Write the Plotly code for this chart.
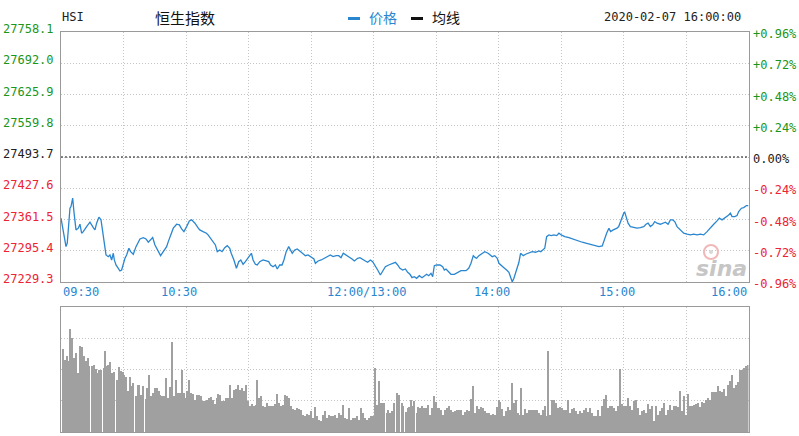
import plotly.graph_objects as go

# ---------------- data ----------------
prev_close = 27493.7
price_levels = [27758.1, 27692.0, 27625.9, 27559.8, 27493.7, 27427.6, 27361.5, 27295.4, 27229.3]
pct_labels = ['+0.96%', '+0.72%', '+0.48%', '+0.24%', '0.00%', '-0.24%', '-0.48%', '-0.72%', '-0.96%']
xtick_min = [0, 60, 150, 210, 270, 330]          # trading minutes since 09:30
xtick_text = ['09:30', '10:30', '12:00/13:00', '14:00', '15:00', '16:00']

# price line (trading minute, index value)
price_min = [0, 2.4, 3.0, 4.3, 4.8, 5.6, 6.2, 7.2, 8.3, 9.1, 9.9, 10.7, 12.3, 13.9, 15.5, 16.3, 17.1, 18.2, 19.2, 20.0,
             20.8, 21.6, 22.7, 23.5, 24.3, 25.1, 25.6, 26.4, 27.5, 28.3, 29.1, 29.9, 30.7, 31.5, 32.6, 33.4, 34.7, 36.0,
             37.9, 39.5, 40.8, 41.9, 43.0, 44.0, 45.1, 46.7, 47.8, 49.1, 50.7, 51.5, 52.8, 53.9, 55.5, 56.8, 57.9, 59.0,
             60.3, 61.6, 62.7, 64.3, 65.9, 66.6, 68.2, 69.8, 70.6, 71.9, 73.0, 74.1, 75.0, 76.2, 77.3, 78.6, 79.8, 81.0,
             81.7, 83.0, 84.2, 85.3, 86.3, 87.4, 88.5, 89.8, 91.4, 92.2, 93.3, 94.2, 95.4, 97.0, 98.5, 99.7, 100.6,
             101.8, 102.9, 103.8, 105.0, 106.1, 107.0, 108.1, 109.3, 110.2, 111.0, 112.2, 113.4, 114.6, 116.2, 117.3,
             118.6, 120.2, 121.4, 122.1, 123.4, 124.9, 126.6, 128.2, 129.3, 130.6, 132.1, 133.3, 134.4, 135.5, 136.8,
             138.4, 139.7, 140.8, 142.4, 143.5, 144.8, 146.1, 147.2, 148.5, 149.6,
             150.4, 152.0, 153.3, 154.4, 155.7, 157.3, 158.9, 160.5, 161.6, 162.7, 164.0, 165.3, 166.4, 167.5, 168.5,
             169.6, 170.7, 172.0, 173.3, 174.4, 175.5, 176.5, 177.6, 178.4, 179.2, 180.3, 181.9, 183.2, 184.0, 184.8,
             186.1, 187.2, 188.8, 190.4, 192.0, 194.4, 195.7, 196.8, 197.9, 198.9, 199.5, 200.6, 202.2, 203.4, 205.0,
             206.3, 207.0, 208.2, 209.4, 210.2, 211.3, 212.6, 213.9, 215.0, 215.9, 216.6, 217.4, 218.7, 219.8, 220.6,
             221.9, 223.0, 224.6, 226.2, 227.8, 229.4, 230.3, 231.5, 232.2, 233.1, 234.2, 235.3, 236.6, 237.9, 239.0,
             240.1, 241.8, 243.8, 245.4, 247.1, 248.6, 250.2, 251.9, 253.4, 255.0, 256.7, 258.2, 259.8, 261.0, 261.9,
             263.0, 263.8, 265.1, 266.9, 267.7, 268.5, 269.3, 270.1, 270.6, 271.2, 272.2, 273.3, 274.9, 276.5, 278.1,
             279.7, 280.8, 281.8, 282.9, 284.0, 285.0, 286.1, 287.7, 288.8, 290.1, 291.4, 292.5, 293.6, 294.6, 295.7,
             296.5, 297.7, 298.9, 300.5, 302.1, 303.7, 305.3, 306.9, 308.5, 310.1, 311.7, 313.3, 314.9, 316.0, 317.3,
             318.9, 320.2, 321.3, 322.1, 323.4, 324.5, 325.3, 326.6, 327.7, 329.0, 330.0]
price = [27364.3, 27304.1, 27311.3, 27385.4, 27388.8, 27406.6, 27378.2, 27339.5, 27343.1, 27351.5, 27332.5, 27335.9,
         27346.5, 27355.8, 27344.3, 27339.5, 27353.7, 27366.4, 27360.7, 27335.9, 27307.7, 27286.5, 27282.9, 27286.5,
         27275.9, 27290.1, 27275.9, 27265.3, 27258.3, 27252.6, 27254.7, 27268.9, 27279.5, 27286.5, 27300.7, 27293.5,
         27288.0, 27304.1, 27320.4, 27323.2, 27320.4, 27313.4, 27318.3, 27323.2, 27307.7, 27295.0, 27285.0, 27293.5,
         27304.1, 27314.7, 27328.9, 27343.1, 27351.5, 27350.1, 27341.6, 27335.9, 27346.5, 27358.5, 27360.7, 27353.7,
         27343.1, 27339.5, 27335.9, 27332.5, 27328.9, 27321.9, 27314.7, 27307.7, 27293.5, 27297.1, 27293.5, 27302.0,
         27306.2, 27300.7, 27290.1, 27275.9, 27258.3, 27272.3, 27275.9, 27266.8, 27272.3, 27280.8, 27290.1, 27275.9,
         27266.8, 27265.3, 27272.3, 27275.9, 27273.8, 27272.3, 27265.3, 27261.7, 27265.3, 27256.8, 27265.3, 27265.3,
         27275.9, 27293.5, 27304.1, 27297.1, 27290.1, 27297.1, 27299.2, 27295.0, 27290.1, 27285.0, 27286.5, 27280.8,
         27278.0, 27268.9, 27273.8, 27275.9, 27279.5, 27282.9, 27286.5, 27282.9, 27285.0, 27285.0, 27280.8, 27290.1,
         27286.5, 27282.9, 27278.0, 27273.8, 27279.5, 27280.8, 27278.0, 27273.8, 27271.0, 27275.9, 27272.3,
         27265.3, 27254.7, 27244.1, 27251.1, 27261.7, 27265.3, 27268.9, 27271.0, 27265.3, 27258.3, 27254.7, 27256.8,
         27249.9, 27245.6, 27238.4, 27240.5, 27237.1, 27242.6, 27238.4, 27242.6, 27245.6, 27242.6, 27247.7, 27240.5,
         27263.8, 27265.3, 27265.3, 27261.7, 27254.7, 27256.8, 27251.1, 27245.6, 27245.6, 27249.9, 27253.2, 27253.2,
         27258.3, 27268.9, 27285.0, 27280.8, 27279.5, 27285.0, 27290.1, 27293.5, 27290.1, 27286.5, 27282.9, 27285.0,
         27279.5, 27268.9, 27265.3, 27259.6, 27254.7, 27249.9, 27238.4, 27229.6, 27237.1, 27254.7, 27271.0, 27290.1,
         27285.0, 27288.0, 27290.1, 27293.5, 27292.2, 27295.0, 27293.5, 27297.1, 27300.7, 27325.3, 27328.9, 27327.4,
         27328.9, 27327.4, 27332.5, 27328.9, 27325.3, 27323.2, 27320.4, 27318.3, 27314.7, 27313.4, 27311.3, 27309.2,
         27307.7, 27306.2, 27304.1, 27305.6, 27321.9, 27332.5, 27343.1, 27335.9, 27339.5, 27343.1, 27346.5, 27357.1,
         27367.6, 27374.8, 27377.0, 27367.6, 27353.7, 27346.5, 27344.3, 27343.1, 27344.3, 27346.5, 27351.5, 27353.7,
         27346.5, 27350.1, 27357.1, 27353.7, 27351.5, 27353.7, 27355.8, 27351.5, 27360.7, 27360.7, 27357.1, 27346.5,
         27343.1, 27335.9, 27332.5, 27330.4, 27328.9, 27330.4, 27328.9, 27330.4, 27328.9, 27335.9, 27344.3, 27351.5,
         27358.5, 27364.3, 27360.7, 27365.5, 27369.8, 27374.8, 27367.6, 27367.6, 27369.8, 27378.2, 27385.4, 27386.7,
         27391.0, 27391.0]

# volume bars (trading minute, relative volume 0-100 of panel height)
vol_min = [1.1, 2.1, 2.7, 3.7, 4.2, 4.8, 5.4, 6.1, 7.2, 8.3, 9.1, 10.1, 11.0, 12.0, 12.8, 13.6, 14.7, 15.8, 16.6, 17.6,
           18.4, 19.4, 20.5, 21.3, 22.1, 22.7, 23.5, 24.5, 25.4, 26.7, 27.8, 28.6, 29.6, 30.2, 31.0, 32.0, 33.0, 33.9,
           34.7, 35.8, 36.8, 37.6, 38.6, 39.5, 40.6, 41.3, 42.1, 43.0, 44.0, 45.0, 45.9, 46.9, 47.7, 48.6, 49.4, 50.4,
           51.2, 52.2, 53.1, 53.5, 54.1, 55.2, 56.2, 57.1, 58.1, 58.9, 59.8, 60.6, 61.4, 62.4, 63.4, 64.3, 65.4, 66.2,
           67.2, 68.3, 69.1, 70.1, 71.0, 72.0, 72.8, 73.8, 74.7, 75.5, 76.3, 77.3, 78.2, 79.2, 80.2, 81.0, 82.1, 82.9,
           83.8, 85.0, 85.9, 86.9, 87.8, 88.8, 89.8, 90.7, 91.7, 92.6, 93.4, 94.2, 95.0, 96.0, 97.0, 97.9, 98.7, 99.8,
           100.8, 101.8, 102.7, 103.8, 104.8, 105.8, 106.7, 107.7, 108.6, 109.6, 110.6, 111.5, 112.5, 113.4, 114.4,
           115.4, 116.3, 117.1, 118.1, 119.0, 120.0, 121.0, 121.9, 122.9, 123.8, 124.8, 125.8, 126.7, 127.7, 128.6,
           129.6, 130.6, 131.5, 132.5, 133.4, 134.4, 135.4, 136.3, 137.3, 138.2, 139.0, 140.0, 141.1, 141.9, 142.9,
           143.8, 144.8, 145.8, 146.7, 147.7, 148.6, 149.6,
           150.6, 151.5, 152.5, 153.3, 154.2, 155.2, 156.3, 157.1, 158.1, 159.0, 160.0, 161.1, 162.1, 163.5, 164.3,
           165.4, 166.4, 167.2, 168.0, 168.8, 169.6, 170.7, 171.5, 172.5, 173.4, 174.2, 175.2, 176.2, 177.1, 178.1,
           178.9, 179.8, 180.6, 181.6, 182.6, 183.5, 184.5, 185.4, 186.4, 187.4, 188.3, 189.3, 190.2, 191.2, 192.2,
           193.1, 194.1, 195.0, 196.0, 197.0, 197.9, 198.9, 199.8, 200.8, 201.8, 202.7, 203.7, 204.6, 205.6, 206.6,
           207.5, 208.5, 209.1, 210.1, 210.9, 211.7, 212.6, 213.6, 214.6, 215.5, 216.5, 217.4, 218.4, 219.2, 220.0,
           220.8, 221.6, 222.6, 223.5, 224.5, 225.4, 226.4, 227.4, 228.3, 229.3, 230.3, 231.2, 232.2, 232.9, 233.7,
           234.6, 235.5, 236.5, 237.4, 238.4, 239.4, 240.3, 241.3, 242.2, 243.2, 244.2, 245.1, 246.1, 247.0, 248.0,
           249.0, 249.9, 250.9, 251.8, 252.8, 253.8, 254.7, 255.7, 256.6, 257.6, 258.6, 259.5, 260.5, 261.4, 262.4,
           263.4, 264.3, 265.3, 266.2, 267.2, 268.2, 269.1, 270.1, 271.0, 272.0, 273.0, 273.9, 274.9, 275.8, 276.8,
           277.8, 278.7, 279.7, 280.6, 281.6, 282.6, 283.5, 284.5, 285.4, 286.4, 287.4, 288.3, 289.3, 290.2, 291.2,
           292.2, 293.1, 294.1, 295.0, 296.0, 297.0, 297.9, 298.9, 299.8, 300.8, 301.8, 302.7, 303.7, 304.6, 305.6,
           306.6, 307.5, 308.5, 309.4, 310.4, 311.4, 312.3, 313.3, 314.2, 315.2, 316.2, 317.1, 318.1, 319.0, 320.0,
           321.0, 321.9, 322.9, 323.8, 324.8, 325.8, 326.7, 327.7, 328.6, 329.6]
vol = [66.4, 57.9, 60.5, 56.5, 82.4, 53.9, 75.2, 59.2, 63.2, 47.2, 69.1, 68.0, 60.5, 56.5, 59.2, 52.5, 52.5, 53.9, 50.4,
       47.2, 49.3, 49.9, 51.2, 64.5, 52.5, 53.9, 55.7, 47.2, 47.7, 41.3, 52.0, 48.5, 47.7, 45.9, 44.0, 32.5, 44.0, 37.1,
       39.2, 28.5, 37.9, 37.9, 29.9, 37.1, 26.4, 35.2, 45.9, 28.5, 31.2, 35.2, 35.2, 32.5, 29.9, 28.5, 28.5, 43.2,
       27.2, 36.0, 28.5, 72.0, 28.5, 41.9, 31.2, 31.2, 49.9, 31.2, 27.2, 32.5, 41.9, 31.2, 30.7, 25.9, 29.9, 29.9,
       28.5, 24.5, 24.5, 25.9, 27.2, 28.0, 25.9, 22.7, 27.2, 30.7, 29.9, 24.5, 24.5, 27.2, 27.2, 37.9, 27.2, 33.9,
       34.4, 37.9, 33.9, 35.2, 32.5, 37.9, 24.5, 21.1, 22.7, 20.5, 21.9, 41.9, 27.2, 29.1, 20.5, 20.0, 23.2, 20.5,
       21.1, 21.1, 22.7, 30.7, 23.2, 21.1, 21.9, 29.9, 28.5, 27.2, 21.1, 18.4, 17.9, 19.2, 18.4,
       17.9, 13.9, 12.5, 14.7, 13.9, 16.5, 11.2, 20.0, 13.1, 9.9, 8.5, 13.9, 16.5, 11.2, 13.9,
       13.1, 13.1, 13.9, 11.2, 15.2, 13.9, 21.9, 11.2, 10.4, 19.2, 9.9, 11.2, 11.2, 12.5, 9.9,
       19.2, 15.2, 11.2, 9.3, 11.2, 12.5, 12.5,
       51.2, 21.9, 40.5, 23.2, 23.2, 23.2, 15.2, 17.9, 15.2, 16.5, 23.2, 31.2, 29.9, 23.2, 21.1,
       15.7, 19.2, 20.0, 25.3, 21.1, 24.5, 15.2, 20.0, 19.2, 20.5, 19.2, 19.2, 21.9, 13.9, 19.2,
       29.1, 23.7, 19.2, 19.2, 17.9, 13.9, 17.9, 19.2, 20.5, 17.9, 15.7, 16.5, 17.9, 17.9, 17.3,
       13.9, 15.7, 17.3, 16.5, 26.4, 37.1, 15.2, 20.5, 18.4, 20.0, 19.2, 16.5, 15.2, 15.2, 13.9,
       14.7, 13.9, 20.0, 25.9, 23.7, 18.4, 12.5, 16.5, 20.0, 17.3, 39.2, 23.2, 25.9, 15.2, 13.9,
       35.2, 13.9, 18.4, 15.2, 17.3, 17.3, 17.3, 17.9, 17.9, 15.2, 13.9, 17.9, 20.5, 12.5, 64.5,
       13.9, 25.3, 25.3, 23.2, 19.2, 20.0, 19.2, 17.9, 17.9, 25.9, 15.2, 18.4, 19.2, 16.5, 14.7,
       16.5, 15.2, 17.9, 19.2, 15.7, 19.2, 15.2, 13.1, 12.5, 17.9, 13.1, 20.5, 26.4, 29.9, 19.2,
       20.5, 21.1, 19.2, 16.5, 20.5, 50.4, 22.7, 20.5, 21.1, 26.9, 20.5, 17.9, 24.5, 25.9, 19.2,
       13.9, 16.5, 17.9, 15.2, 22.7, 18.4, 20.5, 8.5, 21.1, 13.9, 16.5, 19.2, 23.2, 13.9, 17.9,
       21.9, 17.9, 21.1, 20.5, 20.0, 32.5, 16.5, 29.1, 13.9, 30.7, 21.1, 21.1, 21.9, 22.7, 23.2,
       20.0, 23.7, 23.2, 25.9, 27.2, 25.9, 31.7, 31.7, 31.7, 37.1, 32.5, 31.7, 34.4, 28.5, 37.9,
       40.5, 45.9, 35.2, 37.9, 39.7, 49.3, 49.3, 51.2, 52.5, 53.9]

# ---------------- styling ----------------
W, H = 799, 436
X0, X1 = 61, 748.5
PT, PB = 32, 282      # price panel top/bottom (px)
VT, VB = 307, 432     # volume panel top/bottom (px)
MONO = "DejaVu Sans Mono"
CJK = "Noto Sans CJK SC"
GREEN, RED, BLACK = "#1a961a", "#ee2233", "#222222"
BLUE = "#2a86cf"
GRID = "#c4c4c4"
BORDER = "#9a9a9a"

def px_y(p):
    return 1 - p / H

fig = go.Figure()
fig.add_trace(go.Scatter(x=price_min, y=price, mode="lines",
                         line=dict(color=BLUE, width=1.3), xaxis="x", yaxis="y",
                         hoverinfo="skip", showlegend=False))
fig.add_trace(go.Bar(x=vol_min, y=vol, width=0.45, marker=dict(color="#a0a0a0", line=dict(width=0)),
                     xaxis="x2", yaxis="y3", hoverinfo="skip", showlegend=False))

xdom = [X0 / W, X1 / W]
common_x = dict(range=[0, 330], domain=xdom, tick0=0, dtick=30, showticklabels=False,
                showgrid=True, gridcolor=GRID, griddash="1px,2px", gridwidth=1,
                showline=True, mirror=True, linecolor=BORDER, linewidth=1, zeroline=False, ticks="",
                fixedrange=True)
fig.update_layout(
    width=W, height=H, margin=dict(l=0, r=0, t=0, b=0),
    paper_bgcolor="white", plot_bgcolor="white",
    xaxis=dict(**common_x, anchor="y"),
    xaxis2=dict(**common_x, anchor="y3"),
    yaxis=dict(range=[price_levels[-1], price_levels[0]], domain=[px_y(PB), px_y(PT)],
               tickvals=price_levels, showticklabels=False, showgrid=True, gridcolor=GRID,
               griddash="1px,2px", showline=True, mirror=True, linecolor=BORDER, linewidth=1,
               zeroline=False, ticks="", anchor="x"),
    yaxis3=dict(range=[0, 100], domain=[px_y(VB), px_y(VT)], tick0=0, dtick=25,
                showticklabels=False, showgrid=True, gridcolor=GRID, griddash="1px,2px",
                showline=True, mirror=True, linecolor=BORDER, linewidth=1, zeroline=False,
                ticks="", anchor="x2"),
    bargap=0,
    showlegend=False,
)

# previous close dashed line
fig.add_shape(type="line", xref="x domain", yref="y", x0=0, x1=1, y0=prev_close, y1=prev_close,
              line=dict(color="#111111", width=1, dash="2px,2px"), layer="above")

ann = []
# y labels (left: price, right: percent)
for lv, pc in zip(price_levels, pct_labels):
    col = GREEN if lv > prev_close + 1e-6 else (RED if lv < prev_close - 1e-6 else BLACK)
    ann.append(dict(x=X0 / W, xref="paper", y=lv, yref="y", text=f"{lv:.1f}", showarrow=False,
                    xanchor="right", yanchor="middle", xshift=-5, yshift=3,
                    font=dict(family=MONO, size=12, color=col)))
    ann.append(dict(x=X1 / W, xref="paper", y=lv, yref="y", text=pc, showarrow=False,
                    xanchor="left", yanchor="middle", xshift=2, yshift=-2,
                    font=dict(family=MONO, size=12, color=col)))

# x labels
for i, (m, t) in enumerate(zip(xtick_min, xtick_text)):
    if i == 0:
        xa, xs = "left", 0
    elif i == len(xtick_min) - 1:
        xa, xs = "right", 0
    else:
        xa, xs = "center", -7
    ann.append(dict(x=m, xref="x", y=px_y(292), yref="paper", text=t, showarrow=False,
                    xanchor=xa, yanchor="middle", xshift=xs,
                    font=dict(family=MONO, size=12, color=BLUE)))

# header
ann.append(dict(x=60 / W, xref="paper", y=px_y(17), yref="paper", text="HSI", showarrow=False,
                xanchor="left", yanchor="middle", font=dict(family=MONO, size=12, color="#222")))
ann.append(dict(x=185 / W, xref="paper", y=px_y(17), yref="paper", text="恒生指数", showarrow=False,
                xanchor="center", yanchor="middle", font=dict(family=CJK, size=15, color="#111")))
ann.append(dict(x=367 / W, xref="paper", y=px_y(17), yref="paper", text="价格", showarrow=False,
                xanchor="left", yanchor="middle", font=dict(family=CJK, size=14, color=BLUE)))
ann.append(dict(x=430 / W, xref="paper", y=px_y(17), yref="paper", text="均线", showarrow=False,
                xanchor="left", yanchor="middle", font=dict(family=CJK, size=14, color="#111")))
ann.append(dict(x=743 / W, xref="paper", y=px_y(17), yref="paper", text="2020-02-07 16:00:00",
                showarrow=False, xanchor="right", yanchor="middle",
                font=dict(family=MONO, size=12, color="#222")))
# watermark
ann.append(dict(x=721 / W, xref="paper", y=px_y(268), yref="paper", text="<b><i>sina</i></b>",
                showarrow=False, xanchor="center", yanchor="middle",
                font=dict(family="DejaVu Sans", size=22, color="#c6c6c6")))
fig.update_layout(annotations=ann)

# watermark eye
fig.add_shape(type="circle", xref="paper", yref="paper", x0=704 / W, x1=718 / W,
              y0=px_y(259), y1=px_y(245), fillcolor="rgba(0,0,0,0)",
              line=dict(color="#f0b8b8", width=2))
fig.add_shape(type="circle", xref="paper", yref="paper", x0=709 / W, x1=713 / W,
              y0=px_y(254), y1=px_y(250), fillcolor="#d8d8d8", line=dict(width=0))

# legend swatches
fig.add_shape(type="rect", xref="paper", yref="paper", x0=348 / W, x1=360 / W,
              y0=px_y(20), y1=px_y(17), fillcolor=BLUE, line=dict(width=0))
fig.add_shape(type="rect", xref="paper", yref="paper", x0=411 / W, x1=423 / W,
              y0=px_y(20), y1=px_y(17), fillcolor="#111", line=dict(width=0))

fig.write_html("out.html", config={"displayModeBar": False},
               post_script="document.body.style.margin='0';document.body.style.padding='0';")
